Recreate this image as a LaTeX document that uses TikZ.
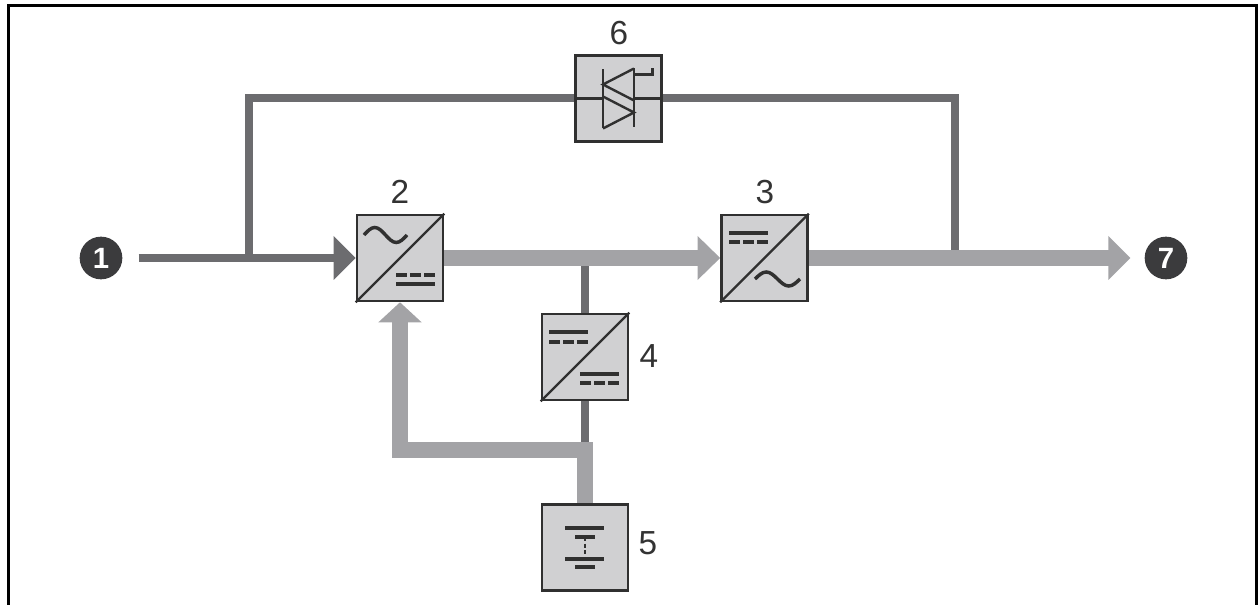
\documentclass[tikz,border=0pt]{standalone}
\usepackage{fontspec}
\setmainfont{Liberation Sans}
\usetikzlibrary{arrows.meta,calc}
\pgfdeclarelayer{background}
\pgfsetlayers{background,main}
\definecolor{boxfill}{HTML}{D0D0D2}
\definecolor{boxdraw}{HTML}{303030}
\definecolor{darkwire}{HTML}{6C6C6F}
\definecolor{lightwire}{HTML}{A3A3A6}
\definecolor{ballcol}{HTML}{3B3B3D}
\definecolor{labelcol}{HTML}{333333}
\begin{document}
\begin{tikzpicture}[x=0.75pt,y=-0.75pt,
  unit/.style={draw=boxdraw, fill=boxfill, line width=1.9pt, minimum size=64.5pt, inner sep=0pt},
  darkline/.style={draw=darkwire, line width=6pt},
  lightline/.style={draw=lightwire, line width=12pt},
  num/.style={font=\fontsize{25pt}{30pt}\selectfont, text=labelcol, inner sep=0pt},
  ball/.style={circle, fill=ballcol, minimum size=32pt, inner sep=0pt, text=white, font=\fontsize{22pt}{26pt}\selectfont\bfseries},
  sym/.style={draw=boxdraw, line width=2.6pt},
  thinsym/.style={draw=boxdraw, line width=1.8pt}
]
\useasboundingbox (0,0) rectangle (1258,605);
% frame
\draw[black, line width=2.25pt] (8,605) -- (8,6) -- (1256,6) -- (1256,605);

% nodes
\node[unit] (b2) at (400,258) {};
\node[unit] (b3) at (764.5,258) {};
\node[unit] (b4) at (585,357) {};
\node[unit] (b5) at (585,547.5) {};
\node[unit] (b6) at (618.5,98.5) {};
\node[ball] (c1) at (101,258) {1};
\node[ball] (c7) at (1166,258) {7};

\node[num] (l2) at (400,192) {2};
\node[num] (l3) at (765,192) {3};
\node[num] (l6) at (619,33) {6};
\node[num] (l4) at (649,356) {4};
\node[num] (l5) at (648,543) {5};

\coordinate (j1) at (249,258);
\coordinate (j2) at (955,258);
\coordinate (fb) at (585,450);

% connectors
\begin{pgfonlayer}{background}
\draw[darkline] (j1) |- (b6.west);
\draw[darkline] (b6.east) -| (j2);
\draw[darkline, -{Triangle[length=16.5pt,width=32pt]}, shorten <=12pt] (c1) -- (b2.west);
\draw[darkline] (b4.north) -- (b4.north |- b2.east);
\draw[darkline] (b4.south) -- (fb);
\draw[lightline, -{Triangle[length=17pt,width=32pt]}] (b2.east) -- (b3.west);
\draw[lightline, -{Triangle[length=16.5pt,width=32pt]}, shorten >=10.5pt] (b3.east) -- (c7);
\draw[lightline, -{Triangle[length=15pt,width=31.5pt]}] (b5.north) -- (fb) -| (b2.south);
\end{pgfonlayer}

% box 2: AC/DC
\draw[thinsym] (b2.south west) -- (b2.north east);
\begin{scope}[shift={(b2.center)}]
  \draw[sym] (-36,-23) sin (-25.25,-30.5) cos (-14.5,-23) sin (-3.75,-15.5) cos (7,-23);
  \draw[sym] (-4,17) -- (7,17) (10,17) -- (21,17) (24,17) -- (35,17);
  \draw[sym] (-4,26) -- (35,26);
\end{scope}

% box 3: DC/AC
\draw[thinsym] (b3.south west) -- (b3.north east);
\begin{scope}[shift={(b3.center)}]
  \draw[sym] (-35.5,-25) -- (3.5,-25);
  \draw[sym] (-35.5,-16) -- (-24.5,-16) (-21.5,-16) -- (-10.5,-16) (-7.5,-16) -- (3.5,-16);
  \draw[sym] (-9.5,21) sin (1.75,14) cos (13,21) sin (24.25,28) cos (35.5,21);
\end{scope}

% box 4: DC/DC
\draw[thinsym] (b4.south west) -- (b4.north east);
\begin{scope}[shift={(b4.center)}]
  \draw[sym] (-36,-25) -- (3,-25);
  \draw[sym] (-36,-15) -- (-25,-15) (-22,-15) -- (-11,-15) (-8,-15) -- (3,-15);
  \draw[sym] (-5,17) -- (34,17);
  \draw[sym] (-5,26) -- (6,26) (9,26) -- (20,26) (23,26) -- (34,26);
\end{scope}

% box 5: battery
\begin{scope}[shift={(b5.center)}]
  \draw[sym] (-20,-19.5) -- (19,-19.5);
  \draw[sym] (-10,-10.5) -- (10,-10.5);
  \draw[thinsym, dash pattern=on 3pt off 2pt] (0,-10.5) -- (0,11.5);
  \draw[sym] (-20,11.5) -- (19,11.5);
  \draw[sym] (-10,19.5) -- (10,19.5);
\end{scope}

% box 6: static bypass (antiparallel thyristors)
\begin{scope}[shift={(b6.center)}]
  \draw[thinsym] (-43,0) -- (-15.5,0);
  \draw[thinsym] (15.5,0) -- (43,0);
  \draw[thinsym] (-15.5,-29) -- (-15.5,30);
  \draw[thinsym] (15.5,-30) -- (15.5,29);
  \draw[thinsym, line join=miter] (15.5,-30) -- (-15.5,-14) -- (15.5,2);
  \draw[thinsym, line join=miter] (-15.5,-2) -- (15.5,14) -- (-15.5,30);
  \draw[thinsym] (15.5,-24) -- (34,-24) -- (34,-30);
\end{scope}
\end{tikzpicture}
\end{document}
